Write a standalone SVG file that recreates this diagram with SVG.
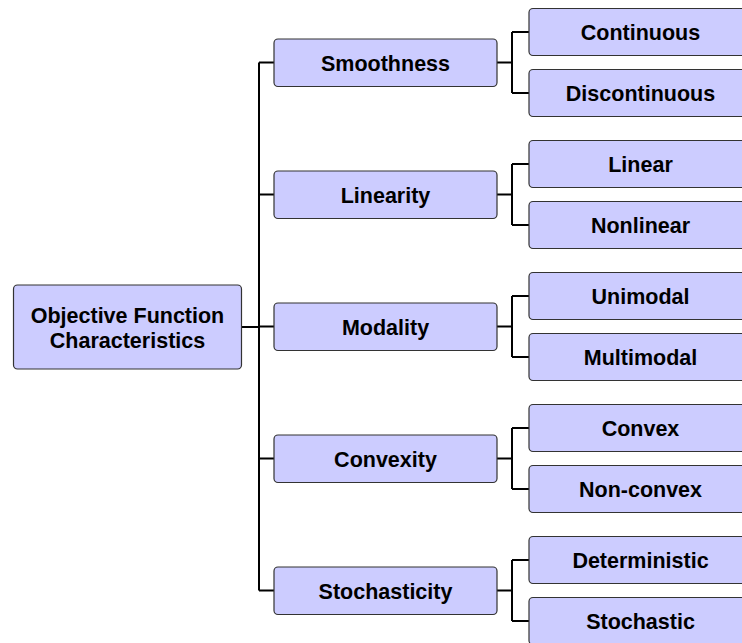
<svg xmlns="http://www.w3.org/2000/svg" width="742" height="643" viewBox="0 0 742 643">
<style>
.box{fill:#ccccff;stroke:#333333;stroke-width:1.2}
.t{font-family:"Liberation Sans",Arial,sans-serif;font-weight:bold;font-size:21.5px;fill:#000000;text-anchor:middle}
.c{fill:none;stroke:#000000;stroke-width:2}
</style>
<rect width="742" height="643" fill="#ffffff"/>
<g id="connectors">
<path class="c" d="M242 327H259M259 62.5V590.5M259 62.5H274M259 194.5H274M259 326.5H274M259 458.5H274M259 590.5H274"/>
<path class="c" d="M497 62.5H512M512 32V93M512 32H529M512 93H529"/>
<path class="c" d="M497 194.5H512M512 164V225M512 164H529M512 225H529"/>
<path class="c" d="M497 326.5H512M512 296V357M512 296H529M512 357H529"/>
<path class="c" d="M497 458.5H512M512 428V489M512 428H529M512 489H529"/>
<path class="c" d="M497 590.5H512M512 560V621M512 560H529M512 621H529"/>
</g>
<g id="root"><rect class="box" x="13.5" y="285" width="228" height="84" rx="4"/><text class="t" x="127.5" y="322.5">Objective Function</text><text class="t" x="127.5" y="347.5">Characteristics</text></g>
<g id="smoothness"><rect class="box" x="274" y="39" width="223" height="47.5" rx="4"/><text class="t" x="385.5" y="70.5">Smoothness</text></g>
<g id="linearity"><rect class="box" x="274" y="171" width="223" height="47.5" rx="4"/><text class="t" x="385.5" y="202.5">Linearity</text></g>
<g id="modality"><rect class="box" x="274" y="303" width="223" height="47.5" rx="4"/><text class="t" x="385.5" y="334.5">Modality</text></g>
<g id="convexity"><rect class="box" x="274" y="435" width="223" height="47.5" rx="4"/><text class="t" x="385.5" y="466.5">Convexity</text></g>
<g id="stochasticity"><rect class="box" x="274" y="567" width="223" height="47.5" rx="4"/><text class="t" x="385.5" y="598.5">Stochasticity</text></g>
<g id="continuous"><rect class="box" x="529" y="8.5" width="223" height="47" rx="4"/><text class="t" x="640.5" y="40">Continuous</text></g>
<g id="discontinuous"><rect class="box" x="529" y="69.5" width="223" height="47" rx="4"/><text class="t" x="640.5" y="101">Discontinuous</text></g>
<g id="linear"><rect class="box" x="529" y="140.5" width="223" height="47" rx="4"/><text class="t" x="640.5" y="172">Linear</text></g>
<g id="nonlinear"><rect class="box" x="529" y="201.5" width="223" height="47" rx="4"/><text class="t" x="640.5" y="233">Nonlinear</text></g>
<g id="unimodal"><rect class="box" x="529" y="272.5" width="223" height="47" rx="4"/><text class="t" x="640.5" y="304">Unimodal</text></g>
<g id="multimodal"><rect class="box" x="529" y="333.5" width="223" height="47" rx="4"/><text class="t" x="640.5" y="365">Multimodal</text></g>
<g id="convex"><rect class="box" x="529" y="404.5" width="223" height="47" rx="4"/><text class="t" x="640.5" y="436">Convex</text></g>
<g id="nonconvex"><rect class="box" x="529" y="465.5" width="223" height="47" rx="4"/><text class="t" x="640.5" y="497">Non-convex</text></g>
<g id="deterministic"><rect class="box" x="529" y="536.5" width="223" height="47" rx="4"/><text class="t" x="640.5" y="568">Deterministic</text></g>
<g id="stochastic"><rect class="box" x="529" y="597.5" width="223" height="47" rx="4"/><text class="t" x="640.5" y="629">Stochastic</text></g>
</svg>
